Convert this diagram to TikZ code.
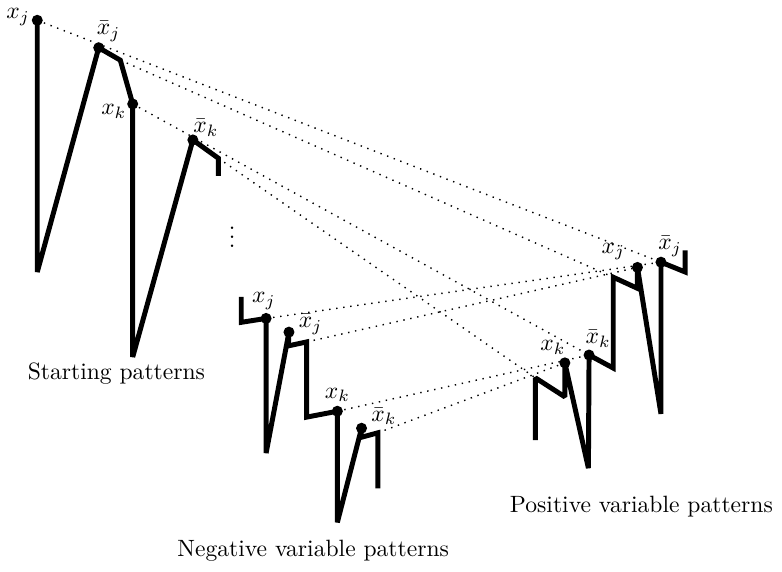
\documentclass[tikz,border=0pt]{standalone}
\usepackage{amsmath,amssymb}
\usetikzlibrary{positioning}
\newcommand{\patpointsize}{2.4pt}
\tikzset{
  pattern line/.style={line width=2.1pt,line cap=butt,line join=miter,miter limit=2},
  link line/.style={line width=.6pt,dash pattern=on .6pt off 2.4pt},
  pattern label/.style={inner sep=1pt},
  caption text/.style={inner sep=0pt}
}
\newcommand{\PatDot}[1]{\fill (#1) circle (\patpointsize);}

\begin{document}
\begin{tikzpicture}[scale=0.974]
  \useasboundingbox (0,0) rectangle (11.96,-8.74);

  % starting patterns
  \coordinate (sxj)  at (0.57,-0.31);
  \coordinate (sb1)  at (0.57,-4.16);
  \coordinate (sxjb) at (1.51,-0.73);
  \coordinate (sc1)  at (1.84,-0.92);
  \coordinate (sxk)  at (2.03,-1.59);
  \coordinate (sb2)  at (2.03,-5.46);
  \coordinate (sxkb) at (2.95,-2.14);
  \coordinate (sc2)  at (3.34,-2.42);
  \coordinate (se)   at (3.34,-2.69);

  % negative variable patterns
  \coordinate (ns)   at (3.69,-4.54);
  \coordinate (nc0)  at (3.69,-4.93);
  \coordinate (nxj)  at (4.07,-4.87);
  \coordinate (nb1)  at (4.07,-6.93);
  \coordinate (nxjb) at (4.42,-5.08);
  \coordinate (nk1)  at (4.41,-5.29);
  \coordinate (nc1)  at (4.69,-5.23);
  \coordinate (nd1)  at (4.69,-6.38);
  \coordinate (nxk)  at (5.16,-6.29);
  \coordinate (nb2)  at (5.16,-7.99);
  \coordinate (nxkb) at (5.53,-6.55);
  \coordinate (nk2)  at (5.52,-6.69);
  \coordinate (nc2)  at (5.78,-6.62);
  \coordinate (ne)   at (5.78,-7.47);

  % positive variable patterns
  \coordinate (ps)   at (8.19,-6.73);
  \coordinate (pc0)  at (8.19,-5.78);
  \coordinate (pd0)  at (8.64,-6.07);
  \coordinate (pxk)  at (8.64,-5.55);
  \coordinate (pb1)  at (9.00,-7.16);
  \coordinate (pxkb) at (9.01,-5.43);
  \coordinate (pd1)  at (9.38,-5.63);
  \coordinate (pc1)  at (9.38,-4.24);
  \coordinate (pd2)  at (9.75,-4.41);
  \coordinate (pxj)  at (9.75,-4.09);
  \coordinate (pb2)  at (10.11,-6.33);
  \coordinate (pxjb) at (10.11,-4.01);
  \coordinate (pd3)  at (10.48,-4.16);
  \coordinate (pe)   at (10.48,-3.83);

  \draw[link line] (sxj)--(pxjb) (sc1)--(pc1) (sxk)--(pxkb) (sc2)--(pc0)
        (nxj)--(pxjb) (nc1)--(pxj) (nxk)--(pxkb) (nc2)--(pxk);

  \draw[pattern line] (sxj)--(sb1)--(sxjb)--(sc1)--(sxk)--(sb2)--(sxkb)--(sc2)--(se);
  \draw[pattern line] (ns)--(nc0)--(nxj)--(nb1)--(nxjb)--(nk1)--(nc1)--(nd1)--(nxk)
        --(nb2)--(nxkb)--(nk2)--(nc2)--(ne);
  \draw[pattern line] (ps)--(pc0)--(pd0)--(pxk)--(pb1)--(pxkb)--(pd1)--(pc1)--(pd2)
        --(pxj)--(pb2)--(pxjb)--(pd3)--(pe);

  \foreach \p in {sxj,sxjb,sxk,sxkb,nxj,nxjb,nxk,nxkb,pxk,pxkb,pxj,pxjb} {\PatDot{\p}}

  \node[pattern label,above left=-3.4pt and 2pt] (lsxj) at (sxj) {$x_j$};
  \node[pattern label,above right=1.5pt and -2pt] (lsxjb) at (sxjb) {$\bar{x}_j$};
  \node[pattern label,below left=-1pt and 1.5pt] (lsxk) at (sxk) {$x_k$};
  \node[pattern label,above right=0.3pt and -1pt] (lsxkb) at (sxkb) {$\bar{x}_k$};
  \node[pattern label,above=2.5pt,xshift=-1pt] (lnxj) at (nxj) {$x_j$};
  \node[pattern label,above right=-2.3pt and 3pt] (lnxjb) at (nxjb) {$\bar{x}_j$};
  \node[pattern label,above=2.9pt] (lnxk) at (nxk) {$x_k$};
  \node[pattern label,above right=0.3pt and 3pt] (lnxkb) at (nxkb) {$\bar{x}_k$};
  \node[pattern label,above left=2.5pt and -1.5pt] (lpxk) at (pxk) {$x_k$};
  \node[pattern label,above right=2pt and -2.7pt] (lpxkb) at (pxkb) {$\bar{x}_k$};
  \node[pattern label,above left=2pt and 4pt] (lpxj) at (pxj) {$x_j$};
  \node[pattern label,above right=1.2pt and -2.3pt] (lpxjb) at (pxjb) {$\bar{x}_j$};

  \node[caption text] (vd) at (3.55,-3.52) {$\vdots$};
  \node[caption text] (capstart) at (1.78,-5.71) {Starting patterns};
  \node[caption text] (capneg) at (4.79,-8.43) {Negative variable patterns};
  \node[caption text] (cappos) at (9.81,-7.75) {Positive variable patterns};
\end{tikzpicture}
\end{document}
